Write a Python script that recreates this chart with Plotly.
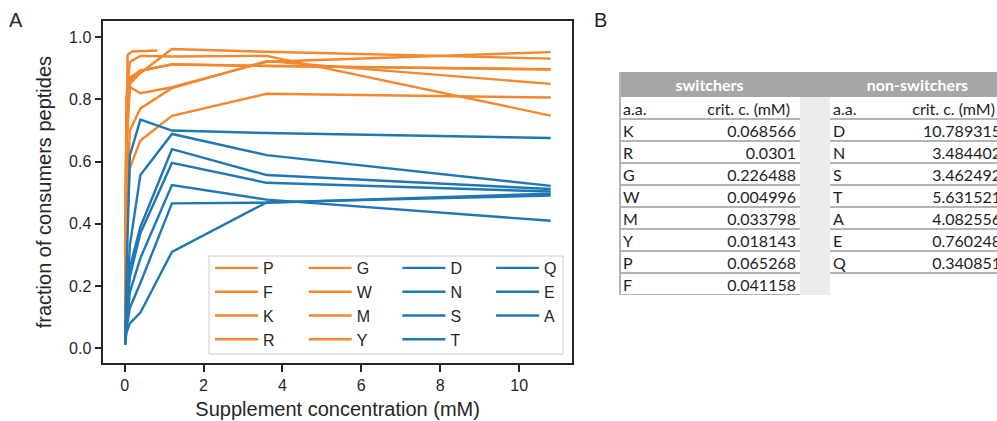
import plotly.graph_objects as go

# ---------------- panel A: uptake curves ----------------
# supplement concentrations (mM) of the dilution series
conc = [0.0148, 0.0444, 0.133, 0.4, 1.2, 3.6, 10.8]
conc_short = [0.01, 0.03, 0.076, 0.19, 0.83]

# fraction of consumer peptides, switchers
frac_P = [0.10, 0.55, 0.943, 0.954, 0.957]
frac_F = [0.15, 0.70, 0.85, 0.885, 0.962, 0.953, 0.931]
frac_K = [0.20, 0.80, 0.92, 0.940, 0.938, 0.940, 0.748]
frac_R = [0.12, 0.70, 0.86, 0.891, 0.913, 0.908, 0.896]
frac_G = [0.10, 0.62, 0.84, 0.820, 0.839, 0.921, 0.952]
frac_W = [0.08, 0.45, 0.70, 0.771, 0.836, 0.923, 0.850]
frac_M = [0.06, 0.35, 0.58, 0.668, 0.747, 0.818, 0.806]
frac_Y = [0.13, 0.74, 0.87, 0.893, 0.912, 0.907, 0.897]

# fraction of consumer peptides, non-switchers
frac_D = [0.020, 0.22, 0.62, 0.735, 0.700, 0.692, 0.676]
frac_N = [0.015, 0.12, 0.33, 0.557, 0.689, 0.621, 0.522]
frac_S = [0.020, 0.10, 0.26, 0.390, 0.640, 0.557, 0.512]
frac_T = [0.015, 0.09, 0.23, 0.370, 0.596, 0.532, 0.504]
frac_Q = [0.012, 0.07, 0.18, 0.290, 0.525, 0.478, 0.410]
frac_E = [0.012, 0.06, 0.13, 0.210, 0.466, 0.468, 0.497]
frac_A = [0.011, 0.05, 0.08, 0.115, 0.310, 0.469, 0.491]

# (name, x, y, legend column)
switcher_series = [
    ("P", conc_short, frac_P, 0), ("F", conc, frac_F, 0),
    ("K", conc, frac_K, 0), ("R", conc, frac_R, 0),
    ("G", conc, frac_G, 1), ("W", conc, frac_W, 1),
    ("M", conc, frac_M, 1), ("Y", conc, frac_Y, 1),
]
non_switcher_series = [
    ("D", conc, frac_D, 2), ("N", conc, frac_N, 2),
    ("S", conc, frac_S, 2), ("T", conc, frac_T, 2),
    ("Q", conc, frac_Q, 3), ("E", conc, frac_E, 3),
    ("A", conc, frac_A, 3),
]

# ---------------- panel B: critical concentrations ----------------
sw_aa = ["K", "R", "G", "W", "M", "Y", "P", "F"]
sw_crit = [0.068566, 0.0301, 0.226488, 0.004996, 0.033798, 0.018143, 0.065268, 0.041158]
ns_aa = ["D", "N", "S", "T", "A", "E", "Q"]
ns_crit = [10.789315, 3.484402, 3.462492, 5.631521, 4.082556, 0.760248, 0.340851]

ORANGE = "#f5872e"
BLUE = "#1f77b4"
INK = "#262626"
FONT = "Liberation Sans"
TFONT = "Lato"

W, H = 997, 421

LEGEND_IDS = ["legend", "legend2", "legend3", "legend4"]

fig = go.Figure()

for color, series in ((ORANGE, switcher_series), (BLUE, non_switcher_series)):
    for name, xs, ys, col in series:
        fig.add_trace(go.Scatter(
            x=xs, y=ys, mode="lines", name=name, legend=LEGEND_IDS[col],
            line=dict(color=color, width=2.4),
            xaxis="x", yaxis="y", hoverinfo="skip",
        ))

# ---- table drawn on a hidden subplot, 1 unit = 1 px ----
tab_left_px, tab_top_px = 619, 72
band_h, row_h = 25, 22
n_rows = 1 + len(sw_aa)
table_h = band_h + row_h * n_rows
tab_w = W - tab_left_px
text_dy = 2.5  # baseline correction so glyphs sit centred in their rows

# column edges (px from the table's left border)
aa1 = (0, 52)
crit1 = (52, 181)
gap = (181, 211)
aa2 = (211, 260)
crit2 = (260, 386)


def row_mid(i):
    return band_h + row_h * i + row_h / 2 + text_dy


tx = dict(xaxis="x2", yaxis="y2", mode="text", showlegend=False,
          hoverinfo="skip", cliponaxis=True)
cell_font = dict(family=TFONT, size=16, color="#1e1e1e")

# group titles in the grey band
fig.add_trace(go.Scatter(
    x=[(aa1[0] + crit1[1]) / 2, (aa2[0] + crit2[1]) / 2],
    y=[band_h / 2 + text_dy] * 2,
    text=["switchers", "non-switchers"], textposition="middle center",
    textfont=dict(family=TFONT, size=16, color="white", weight="bold"), **tx))

# column headers
fig.add_trace(go.Scatter(
    x=[aa1[0] + 4, aa2[0] + 3], y=[row_mid(0)] * 2, text=["a.a.", "a.a."],
    textposition="middle right", textfont=cell_font, **tx))
fig.add_trace(go.Scatter(
    x=[crit1[1] - 10, crit2[1] - 10], y=[row_mid(0)] * 2,
    text=["crit. c. (mM)", "crit. c. (mM)"],
    textposition="middle left", textfont=cell_font, **tx))

# switchers rows
fig.add_trace(go.Scatter(
    x=[aa1[0] + 4] * len(sw_aa), y=[row_mid(i + 1) for i in range(len(sw_aa))],
    text=sw_aa, textposition="middle right", textfont=cell_font, **tx))
fig.add_trace(go.Scatter(
    x=[crit1[1] - 4] * len(sw_crit), y=[row_mid(i + 1) for i in range(len(sw_crit))],
    text=[str(v) for v in sw_crit], textposition="middle left", textfont=cell_font, **tx))

# non-switchers rows
fig.add_trace(go.Scatter(
    x=[aa2[0] + 3] * len(ns_aa), y=[row_mid(i + 1) for i in range(len(ns_aa))],
    text=ns_aa, textposition="middle right", textfont=cell_font, **tx))
fig.add_trace(go.Scatter(
    x=[crit2[1] - 4] * len(ns_crit), y=[row_mid(i + 1) for i in range(len(ns_crit))],
    text=[str(v) for v in ns_crit], textposition="middle left", textfont=cell_font, **tx))

shapes = []
# grey title band
shapes.append(dict(type="rect", xref="x2", yref="y2", x0=0, x1=tab_w + 40, y0=0, y1=band_h,
                   fillcolor="#a6a6a6", line=dict(width=0), layer="below"))
# light spacer column between the two groups
shapes.append(dict(type="rect", xref="x2", yref="y2", x0=gap[0], x1=gap[1], y0=band_h,
                   y1=table_h, fillcolor="#ececec", line=dict(width=0), layer="below"))
# row separators
rule = dict(color="#b4b4b4", width=2)
for k in range(1, n_rows + 1):
    y = band_h + row_h * k
    shapes.append(dict(type="line", xref="x2", yref="y2", x0=aa1[0], x1=crit1[1],
                       y0=y, y1=y, line=rule, layer="below"))
for k in range(1, len(ns_aa) + 2):
    y = band_h + row_h * k
    shapes.append(dict(type="line", xref="x2", yref="y2", x0=aa2[0], x1=tab_w + 40,
                       y0=y, y1=y, line=rule, layer="below"))
# left border
shapes.append(dict(type="line", xref="x2", yref="y2", x0=1, x1=1, y0=0, y1=table_h,
                   line=rule, layer="below"))

# ---- legend: one frame, four columns ----
leg_left, leg_right, leg_top, leg_bottom = 209, 563, 256, 354
col_step = 93.7
shapes.append(dict(type="rect", xref="paper", yref="paper",
                   x0=leg_left / W, x1=leg_right / W,
                   y0=1 - leg_bottom / H, y1=1 - leg_top / H,
                   fillcolor="rgba(255,255,255,0.8)", line=dict(color="#cccccc", width=1),
                   layer="above"))
legend_common = dict(
    orientation="v", xanchor="left", yanchor="top", y=1 - (leg_top - 5) / H,
    bgcolor="rgba(0,0,0,0)", borderwidth=0, itemwidth=43,
    font=dict(family=FONT, size=16, color=INK),
)
legends = {lid: dict(x=(leg_left + 1 + i * col_step) / W, **legend_common)
           for i, lid in enumerate(LEGEND_IDS)}

axis_common = dict(
    showline=True, mirror=True, linecolor=INK, linewidth=1.6,
    ticks="outside", ticklen=7, tickwidth=1.6, tickcolor=INK,
    showgrid=False, zeroline=False,
    tickfont=dict(family=FONT, size=16, color=INK),
)

fig.update_layout(
    width=W, height=H,
    margin=dict(l=0, r=0, t=0, b=0),
    paper_bgcolor="white", plot_bgcolor="white",
    font=dict(family=FONT, color=INK),
    xaxis=dict(
        domain=[103.3 / W, 572 / W], range=[-0.54, 11.34],
        tickvals=[0, 2, 4, 6, 8, 10],
        title=dict(text="Supplement concentration (mM)", font=dict(size=20, family=FONT, color=INK),
                   standoff=9),
        automargin=False, **axis_common),
    yaxis=dict(
        domain=[1 - 363.3 / H, 1 - 21 / H], range=[-0.048, 1.052],
        tickvals=[0, 0.2, 0.4, 0.6, 0.8, 1.0], tickformat=".1f",
        title=dict(text="fraction of consumers peptides", font=dict(size=20, family=FONT, color=INK),
                   standoff=12),
        automargin=False, **axis_common),
    xaxis2=dict(domain=[tab_left_px / W, 1], range=[0, tab_w], visible=False, fixedrange=True),
    yaxis2=dict(domain=[1 - (tab_top_px + table_h) / H, 1 - tab_top_px / H],
                range=[table_h, 0], visible=False, fixedrange=True),
    shapes=shapes,
    annotations=[
        dict(text="A", x=16 / W, y=1 - 20 / H, xref="paper", yref="paper", showarrow=False,
             font=dict(family=FONT, size=20, color=INK), xanchor="center", yanchor="middle"),
        dict(text="B", x=600 / W, y=1 - 20 / H, xref="paper", yref="paper", showarrow=False,
             font=dict(family=FONT, size=20, color=INK), xanchor="center", yanchor="middle"),
    ],
    showlegend=True,
    **legends,
)

fig.write_html("out.html")
